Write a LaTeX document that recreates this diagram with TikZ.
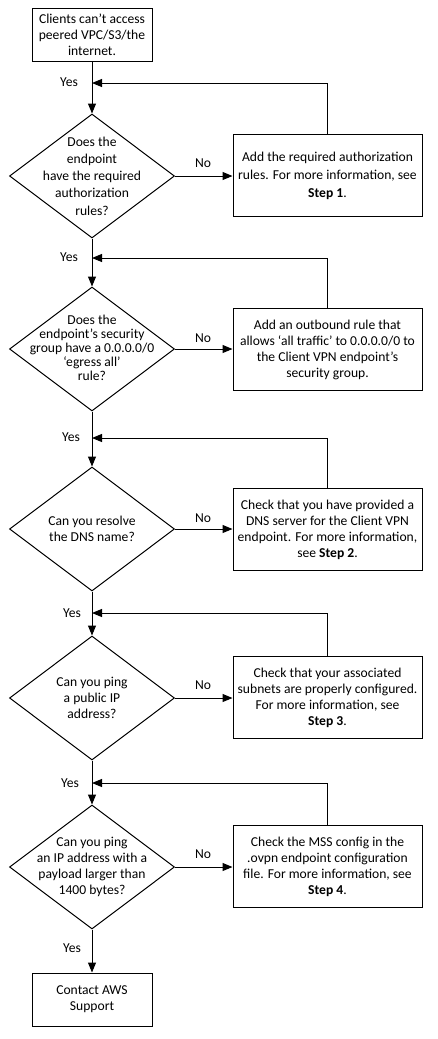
\documentclass[tikz,border=0pt]{standalone}
\usepackage{fontspec}
\setmainfont{Carlito}
\usetikzlibrary{shapes.geometric,arrows.meta}
\begin{document}
\begin{tikzpicture}[x=1pt,y=-1pt,
  every node/.style={font=\fontsize{13.6}{16}\selectfont},
  proc/.style={draw,line width=1pt,minimum width=189,minimum height=82,inner sep=0,align=center},
  dia/.style={draw,diamond,line width=1pt,minimum width=165,minimum height=124,inner sep=0},
  txt/.style={inner sep=0,align=center},
  lab/.style={inner sep=0},
  conn/.style={line width=1pt,-{Triangle[length=10pt,width=8pt]}}
]
\useasboundingbox (0,0) rectangle (437,1039);
\fill[white] (0,0) rectangle (437,1039);

\node[proc,minimum width=120,minimum height=53] (top) at (92,34.5) {Clients can’t access\\peered VPC/S3/the\\internet.};

\node[dia] (d1) at (92,176) {};
\node[txt,font=\fontsize{13.6}{17.3}\selectfont] (t1) at (92,176) {Does the\\endpoint\\have the required\\authorization\\rules?};
\node[proc,font=\fontsize{13.6}{18}\selectfont] (b1) at (327.5,175.5) {Add the required authorization\\rules. For more information, see\\\textbf{Step 1}.};

\node[dia] (d2) at (92,349) {};
\node[txt,font=\fontsize{13.6}{14}\selectfont] (t2) at (92,348) {Does the\\endpoint’s security\\group have a 0.0.0.0/0\\‘egress all’\\rule?};
\node[proc] (b2) at (327.5,349.5) {Add an outbound rule that\\allows ‘all traffic’ to 0.0.0.0/0 to\\the Client VPN endpoint’s\\security group.};

\node[dia] (d3) at (92,529) {};
\node[txt] (t3) at (92,529) {Can you resolve\\the DNS name?};
\node[proc] (b3) at (327.5,529.5) {Check that you have provided a\\DNS server for the Client VPN\\endpoint. For more information,\\see \textbf{Step 2}.};

\node[dia] (d4) at (92,698) {};
\node[txt] (t4) at (92,698) {Can you ping\\a public IP\\address?};
\node[proc] (b4) at (327.5,697.5) {Check that your associated\\subnets are properly configured.\\For more information, see\\\textbf{Step 3}.};

\node[dia] (d5) at (92,867) {};
\node[txt] (t5) at (92,867) {Can you ping\\an IP address with a\\payload larger than\\1400 bytes?};
\node[proc] (b5) at (327.5,866.5) {Check the MSS config in the\\.ovpn endpoint configuration\\file. For more information, see\\\textbf{Step 4}.};

\node[proc,minimum width=120,minimum height=53] (end) at (92,999.5) {Contact AWS\\Support};

% junction coordinates
\coordinate (j1) at (92,83);
\coordinate (j2) at (92,258);
\coordinate (j3) at (92,438);
\coordinate (j4) at (92,613);
\coordinate (j5) at (92,783);

% main flow
\draw[conn] (top.south) -- (d1.north);
\draw[conn] (d1.south) -- (d2.north);
\draw[conn] (d2.south) -- (d3.north);
\draw[conn] (d3.south) -- (d4.north);
\draw[conn] (d4.south) -- (d5.north);
\draw[conn] (d5.south) -- (end.north);

% No branches
\draw[conn] (d1.east) -- (d1.east -| b1.west);
\draw[conn] (d2.east) -- (d2.east -| b2.west);
\draw[conn] (d3.east) -- (d3.east -| b3.west);
\draw[conn] (d4.east) -- (d4.east -| b4.west);
\draw[conn] (d5.east) -- (d5.east -| b5.west);

% loops back
\draw[conn] (b1.north) |- (j1);
\draw[conn] (b2.north) |- (j2);
\draw[conn] (b3.north) |- (j3);
\draw[conn] (b4.north) |- (j4);
\draw[conn] (b5.north) |- (j5);

% labels
\node[lab] (y1) at (69,82) {Yes};
\node[lab] (y2) at (69,257) {Yes};
\node[lab] (y3) at (71,437) {Yes};
\node[lab] (y4) at (72,613) {Yes};
\node[lab] (y5) at (70,783) {Yes};
\node[lab] (y6) at (72,948) {Yes};
\node[lab] (n1) at (203,163) {No};
\node[lab] (n2) at (203,338) {No};
\node[lab] (n3) at (203,518) {No};
\node[lab] (n4) at (203,685) {No};
\node[lab] (n5) at (203,854) {No};
\end{tikzpicture}
\end{document}
